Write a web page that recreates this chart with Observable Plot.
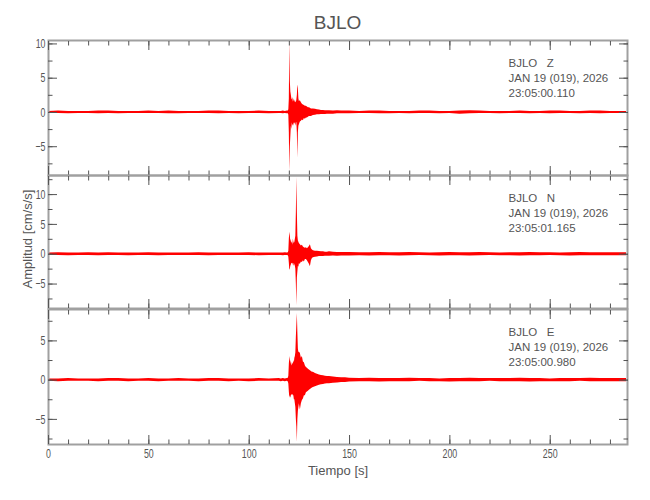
<!DOCTYPE html>
<html>
<head>
<meta charset="utf-8">
<script src="https://cdn.jsdelivr.net/npm/d3@7"></script>
<script src="https://cdn.jsdelivr.net/npm/@observablehq/plot@0.6"></script>
<style>
  body { margin: 0; background: #fff; }
  #chart { position: relative; width: 650px; height: 500px; background: #fff; overflow: hidden;
           font-family: "Liberation Sans", Arial, sans-serif; color: #555; }
  #chart svg { position: absolute; left: 0; overflow: visible; }
  #title { position: absolute; left: 48px; width: 579px; top: 12px; text-align: center; font-size: 19px; }
</style>
</head>
<body>
<div id="chart"><div id="title">BJLO</div></div>
<script>
// ---- data ----
const stationTitle = "BJLO";
const times = [0,5,10,15,20,25,30,35,40,45,50,55,60,65,70,75,80,85,90,95,100,105,110,115,
  116,117,118,119,
  119.5,119.75,120,120.25,120.5,120.75,121,121.25,121.5,121.75,122,122.25,122.5,122.75,123,123.25,123.5,123.75,124,124.25,124.5,124.75,125,
  125.5,126,126.5,127,127.5,128,128.5,129,129.5,130,130.5,131,131.5,132,
  133,134,135,136,137,138,139,140,
  142,144,146,148,150,
  155,160,165,170,175,180,185,190,195,200,205,210,215,220,225,230,235,240,245,250,255,260,265,270,275,280,
  288];

const zHigh = [0.15,0.2,0.15,0.15,0.15,0.2,0.2,0.15,0.15,0.15,0.2,0.15,0.2,0.15,0.15,0.15,0.2,0.2,0.15,0.15,0.15,0.2,0.15,0.15,
  0.15,0.2,0.15,0.2,
  0.2,0.4,2.0,10.3,4.5,3.0,2.5,2.0,1.8,2.2,1.5,2.0,1.6,1.5,1.8,1.5,1.4,1.8,2.5,4.0,3.5,2.0,1.6,
  1.7,1.4,1.2,1.1,1.0,0.9,0.9,0.8,0.7,0.7,0.6,0.5,0.5,0.5,
  0.45,0.4,0.35,0.3,0.3,0.25,0.25,0.25,
  0.2,0.25,0.2,0.2,0.2,
  0.15,0.2,0.2,0.15,0.15,0.15,0.2,0.2,0.15,0.15,0.2,0.25,0.2,0.15,0.15,0.15,0.2,0.15,0.15,0.2,0.2,0.15,0.15,0.2,0.2,0.15,
  0.15];
const zLow = [-0.15,-0.15,-0.2,-0.15,-0.15,-0.2,-0.15,-0.2,-0.15,-0.15,-0.15,-0.15,-0.2,-0.2,-0.15,-0.15,-0.15,-0.2,-0.15,-0.2,-0.15,-0.15,-0.2,-0.15,
  -0.15,-0.2,-0.15,-0.2,
  -0.2,-0.4,-3.0,-8.6,-5.0,-3.5,-2.0,-2.5,-1.5,-2.0,-1.8,-1.5,-2.0,-1.5,-1.6,-2.0,-1.5,-1.5,-3.0,-6.7,-3.0,-2.0,-1.8,
  -1.4,-1.3,-1.1,-1.2,-0.9,-1.0,-0.8,-0.8,-0.7,-0.6,-0.6,-0.6,-0.5,-0.45,
  -0.4,-0.35,-0.35,-0.3,-0.3,-0.3,-0.25,-0.25,
  -0.25,-0.2,-0.2,-0.2,-0.2,
  -0.15,-0.15,-0.2,-0.2,-0.15,-0.2,-0.15,-0.15,-0.2,-0.15,-0.25,-0.2,-0.15,-0.15,-0.2,-0.15,-0.15,-0.2,-0.15,-0.2,-0.15,-0.15,-0.2,-0.15,-0.2,-0.15,
  -0.15];

const nHigh = [0.2,0.25,0.2,0.2,0.25,0.2,0.25,0.2,0.2,0.2,0.25,0.2,0.2,0.2,0.2,0.25,0.2,0.2,0.2,0.2,0.25,0.2,0.2,0.2,
  0.2,0.2,0.25,0.2,
  0.25,0.5,2.5,3.7,3.0,2.0,2.5,1.8,2.0,1.5,2.5,2.0,1.8,2.0,2.5,3.0,7.0,12.9,7.0,3.0,2.2,2.0,1.8,
  1.6,1.4,1.5,1.2,1.1,1.0,1.1,0.9,1.1,1.3,1.6,0.9,0.7,0.6,
  0.5,0.5,0.45,0.4,0.4,0.35,0.35,0.4,
  0.35,0.3,0.3,0.3,0.3,
  0.25,0.25,0.3,0.25,0.25,0.3,0.25,0.2,0.25,0.3,0.25,0.25,0.3,0.25,0.2,0.25,0.25,0.3,0.25,0.25,0.2,0.25,0.3,0.25,0.25,0.25,
  0.25];
const nLow = [-0.2,-0.2,-0.25,-0.2,-0.2,-0.25,-0.2,-0.2,-0.25,-0.2,-0.2,-0.25,-0.2,-0.2,-0.2,-0.2,-0.25,-0.2,-0.2,-0.2,-0.2,-0.25,-0.2,-0.2,
  -0.2,-0.25,-0.2,-0.2,
  -0.25,-0.5,-1.5,-2.7,-2.5,-2.0,-1.8,-1.5,-1.6,-1.5,-1.8,-2.0,-1.5,-1.8,-2.0,-2.5,-5.0,-8.7,-4.0,-3.0,-2.0,-2.2,-1.6,
  -1.7,-1.3,-1.4,-1.1,-1.3,-0.9,-0.9,-1.1,-1.4,-1.7,-2.1,-1.1,-0.7,-0.6,
  -0.5,-0.45,-0.4,-0.4,-0.4,-0.35,-0.35,-0.35,
  -0.3,-0.35,-0.3,-0.3,-0.3,
  -0.25,-0.3,-0.25,-0.25,-0.3,-0.25,-0.2,-0.25,-0.3,-0.25,-0.25,-0.3,-0.25,-0.2,-0.25,-0.25,-0.3,-0.25,-0.25,-0.2,-0.25,-0.3,-0.25,-0.25,-0.25,-0.25,
  -0.25];

const eHigh = [0.15,0.15,0.2,0.15,0.15,0.15,0.2,0.2,0.15,0.15,0.2,0.15,0.15,0.2,0.15,0.15,0.2,0.2,0.15,0.15,0.15,0.2,0.15,0.2,
  0.15,0.2,0.15,0.2,
  0.25,0.5,2.0,3.0,2.5,2.0,2.5,2.0,1.8,2.2,2.0,2.5,2.2,2.8,3.0,3.5,5.5,7.0,8.5,6.0,4.0,3.5,3.6,
  3.4,2.8,3.0,2.3,2.2,1.8,1.6,1.5,1.4,1.3,1.2,1.1,1.0,1.0,
  0.85,0.75,0.65,0.6,0.55,0.5,0.45,0.45,
  0.4,0.35,0.3,0.3,0.25,
  0.2,0.25,0.2,0.2,0.2,0.25,0.2,0.2,0.15,0.2,0.2,0.25,0.2,0.2,0.2,0.2,0.25,0.2,0.2,0.15,0.2,0.2,0.2,0.25,0.2,0.2,
  0.2];
const eLow = [-0.15,-0.2,-0.15,-0.15,-0.15,-0.2,-0.15,-0.15,-0.2,-0.15,-0.15,-0.2,-0.15,-0.15,-0.15,-0.2,-0.15,-0.15,-0.2,-0.15,-0.2,-0.15,-0.15,-0.15,
  -0.2,-0.15,-0.2,-0.15,
  -0.25,-0.5,-1.5,-2.3,-2.0,-2.3,-2.0,-1.8,-2.0,-1.8,-2.0,-2.0,-2.5,-2.5,-3.0,-3.5,-5.0,-6.0,-7.9,-5.0,-4.0,-3.5,-3.0,
  -3.8,-3.0,-2.6,-2.4,-2.0,-2.0,-1.6,-1.5,-1.4,-1.3,-1.2,-1.1,-1.0,-0.95,
  -0.85,-0.75,-0.65,-0.6,-0.55,-0.5,-0.45,-0.45,
  -0.4,-0.35,-0.3,-0.3,-0.25,
  -0.2,-0.2,-0.25,-0.2,-0.2,-0.2,-0.15,-0.2,-0.2,-0.25,-0.2,-0.2,-0.2,-0.15,-0.2,-0.2,-0.2,-0.25,-0.2,-0.2,-0.2,-0.2,-0.15,-0.2,-0.2,-0.2,
  -0.2];

const components = ["Z", "N", "E"];
const startTimes = ["23:05:00.110", "23:05:01.165", "23:05:00.980"];
const dateLabel = "JAN 19 (019), 2026";
const xTickLabels = [0, 50, 100, 150, 200, 250];
const yTickLabels = [[-5, 0, 5, 10], [-5, 0, 5, 10], [-5, 0, 5]];
const yDomains = [[-9.2, 10.5], [-9.1, 13.2], [-8.2, 9.0]];
const xLabel = "Tiempo [s]";
const yLabel = "Amplitud [cm/s/s]";

// ---- drawing ----
const FONT = '"Liberation Sans", Arial, sans-serif';
const TXT = "#555";
const TICK = "#555";
const highs = [zHigh, nHigh, eHigh];
const lows = [zLow, nLow, eLow];
const layout = [ {top: 40, h: 135, mb: 0}, {top: 175, h: 133, mb: 0}, {top: 309, h: 191, mb: 56} ];
const chart = document.getElementById("chart");
document.getElementById("title").textContent = stationTitle;

const xMinor = d3.range(0, 289, 10);

components.forEach((comp, k) => {
  const data = times.map((t, i) => ({t, hi: highs[k][i], lo: lows[k][i]}));
  const dom = yDomains[k];
  const yMinor = d3.range(Math.ceil(dom[0] / 2.5) * 2.5, dom[1] + 1e-9, 2.5);
  const note = `${stationTitle}   ${comp}\n${dateLabel}\n${startTimes[k]}`;
  const marks = [
    Plot.areaY(data, {x: "t", y1: "lo", y2: "hi", fill: "#ff0000", clip: true}),
    Plot.frame({stroke: "#a0a0a0", strokeWidth: 2}),
  ];
  for (const a of ["top", "bottom"]) {
    marks.push(Plot.axisX(xMinor, {anchor: a, tickSize: -4.5, tickFormat: () => "", label: null, stroke: TICK}));
    marks.push(Plot.axisX(xTickLabels, {anchor: a, tickSize: -9, tickFormat: () => "", label: null, stroke: TICK}));
  }
  for (const a of ["left", "right"]) {
    marks.push(Plot.axisY(yMinor, {anchor: a, tickSize: -4.5, tickFormat: () => "", label: null, stroke: TICK}));
    marks.push(Plot.axisY(yTickLabels[k], {anchor: a, tickSize: -9, tickFormat: () => "", label: null, stroke: TICK}));
  }
  marks.push(Plot.axisY(yTickLabels[k], {anchor: "left", tickSize: 0, tickPadding: 3, label: null, fontSize: 13, color: TXT}));
  marks.push(Plot.text([note], {text: d => d, frameAnchor: "top-left", dx: 460, dy: 16, textAnchor: "start",
    lineAnchor: "top", lineHeight: 1.3, fontSize: 11.5, fill: TXT}));
  if (k === 1) {
    marks.push(Plot.text([yLabel], {text: d => d, frameAnchor: "left", dx: -21, dy: -3, rotate: -90,
      textAnchor: "middle", lineAnchor: "middle", fontSize: 13, fill: TXT}));
  }
  if (k === 2) {
    marks.push(Plot.axisX(xTickLabels, {anchor: "bottom", tickSize: 0, tickPadding: 4, label: null, fontSize: 13, color: TXT}));
    marks.push(Plot.text([xLabel], {text: d => d, frameAnchor: "bottom", dy: 26, lineAnchor: "middle",
      fontSize: 13, fill: TXT}));
  }
  const svg = Plot.plot({
    width: 650,
    height: layout[k].h,
    marginLeft: 48,
    marginRight: 23,
    marginTop: 0,
    marginBottom: layout[k].mb,
    x: {domain: [0, 288.5]},
    y: {domain: dom},
    style: {fontFamily: FONT, background: "transparent", overflow: "visible", color: TXT},
    marks
  });
  svg.style.top = layout[k].top + "px";
  chart.appendChild(svg);
  // narrow the tick-label glyphs like the reference's condensed font
  svg.querySelectorAll('g[aria-label="y-axis tick label"] text, g[aria-label="x-axis tick label"] text').forEach(el => {
    const w = el.getComputedTextLength();
    if (w > 0) {
      el.setAttribute("textLength", (w * 0.68).toFixed(1));
      el.setAttribute("lengthAdjust", "spacingAndGlyphs");
    }
  });
});
</script>
</body>
</html>
